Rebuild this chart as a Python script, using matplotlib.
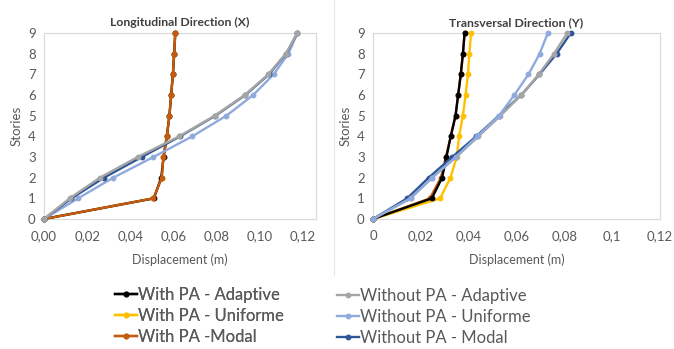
import numpy as np
import matplotlib
matplotlib.use("Agg")
import matplotlib.pyplot as plt
from matplotlib.lines import Line2D

plt.rcParams['font.family'] = ['Lato', 'DejaVu Sans']

# ------------------------------------------------------------
# data (displacement in m, per storey)
# ------------------------------------------------------------
stories = [0, 1, 2, 3, 4, 5, 6, 7, 8, 9]

# Longitudinal direction (X)
x_with_adaptive = [0, 0.0509, 0.0543, 0.0554, 0.0569, 0.0581, 0.0589, 0.0597, 0.0603, 0.0608]
x_with_uniform = [0, 0.0507, 0.0546, 0.0553, 0.0569, 0.0581, 0.0589, 0.0597, 0.0603, 0.0608]
x_with_modal = [0, 0.0507, 0.0546, 0.0553, 0.0569, 0.0581, 0.0589, 0.0597, 0.0603, 0.0608]
x_without_adaptive = [0, 0.0119, 0.0259, 0.0434, 0.0626, 0.0791, 0.0930, 0.1039, 0.1120, 0.1174]
x_without_uniform = [0, 0.0158, 0.0321, 0.0507, 0.0687, 0.0845, 0.0969, 0.1064, 0.1132, 0.1174]
x_without_modal = [0, 0.0127, 0.0278, 0.0453, 0.0631, 0.0794, 0.0933, 0.1042, 0.1122, 0.1174]

# Transversal direction (Y)
y_with_adaptive = [0, 0.0246, 0.0289, 0.0307, 0.0325, 0.0345, 0.0356, 0.0367, 0.0376, 0.0383]
y_with_uniform = [0, 0.0281, 0.0324, 0.0350, 0.0360, 0.0376, 0.0387, 0.0397, 0.0403, 0.0410]
y_with_modal = [0, 0.0238, 0.0284, 0.0305, 0.0325, 0.0345, 0.0356, 0.0367, 0.0376, 0.0383]
y_without_adaptive = [0, 0.0157, 0.0247, 0.0348, 0.0441, 0.0533, 0.0620, 0.0693, 0.0757, 0.0812]
y_without_uniform = [0, 0.0157, 0.0247, 0.0346, 0.0436, 0.0527, 0.0591, 0.0650, 0.0697, 0.0731]
y_without_modal = [0, 0.0143, 0.0233, 0.0331, 0.0432, 0.0526, 0.0620, 0.0696, 0.0768, 0.0827]

labels = ["With PA - Adaptive", "With PA - Uniforme", "With PA -Modal",
          "Without PA - Adaptive", "Without PA - Uniforme", "Without PA - Modal"]
colors = ["#000000", "#FFC000", "#C55A11", "#A5A5A5", "#8FAADC", "#2F5597"]

x_ticks_left = [0, 0.02, 0.04, 0.06, 0.08, 0.10, 0.12]
x_ticklabels_left = ["0,00", "0,02", "0,04", "0,06", "0,08", "0,10", "0,12"]
x_ticks_right = [0, 0.02, 0.04, 0.06, 0.08, 0.10, 0.12]
x_ticklabels_right = ["0", "0,02", "0,04", "0,06", "0,08", "0,1", "0,12"]

grey_txt = "#595959"
frame = "#D9D9D9"

fig = plt.figure(figsize=(6.74, 3.49), dpi=100)
ax1 = fig.add_axes([44/674, 1-219/349, 272/674, 186/349])
ax2 = fig.add_axes([373/674, 1-219/349, 287/674, 186/349])


def draw(ax, series, zorders, xlim, ticks, ticklabels, title):
    for vals, c, z in zip(series, colors, zorders):
        ax.plot(vals, stories, color=c, lw=1.7, marker="o", ms=3.2,
                mec=c, mfc=c, zorder=z, clip_on=False)
    ax.set_xlim(*xlim)
    ax.set_ylim(0, 9)
    ax.set_yticks(stories)
    ax.set_xticks(ticks)
    ax.set_xticklabels(ticklabels)
    ax.tick_params(length=0, labelsize=9.5, colors=grey_txt)
    ax.tick_params(axis="x", pad=8)
    ax.tick_params(axis="y", pad=6)
    for s in ax.spines.values():
        s.set_color(frame)
        s.set_linewidth(0.8)
    ax.set_ylabel("Stories", fontsize=9.5, color=grey_txt, labelpad=4)
    ax.set_xlabel("Displacement (m)", fontsize=9, color=grey_txt, labelpad=8)
    ax.set_title(title, fontsize=8.8, fontweight="bold", color="#404040", pad=5)


draw(ax1, [x_with_adaptive, x_with_uniform, x_with_modal,
           x_without_adaptive, x_without_uniform, x_without_modal],
     [3, 2, 4, 6, 5, 5.5], (0, 0.126), x_ticks_left, x_ticklabels_left,
     "Longitudinal Direction (X)")
draw(ax2, [y_with_adaptive, y_with_uniform, y_with_modal,
           y_without_adaptive, y_without_uniform, y_without_modal],
     [4, 3, 2, 5.5, 6, 5], (0, 0.12), x_ticks_right, x_ticklabels_right,
     "Transversal Direction (Y)")

# separator of the two chart boxes
fig.add_artist(Line2D([334/674, 334/674], [1-275/349, 1.0], color="#E6E6E6", lw=0.8))

handles = [Line2D([], [], color=c, lw=1.7, marker="o", ms=3.2) for c in colors]
common = dict(frameon=False, fontsize=12, labelcolor=grey_txt,
              handlelength=1.3, handletextpad=0.1, labelspacing=0.3,
              borderpad=0, borderaxespad=0, loc="center left")
leg1 = fig.legend(handles[:3], labels[:3], bbox_to_anchor=(115/674, 1-316/349), **common)
fig.add_artist(leg1)
fig.legend(handles[3:], labels[3:], bbox_to_anchor=(337/674, 1-317/349), **common)

fig.savefig("out.png", dpi=100)
